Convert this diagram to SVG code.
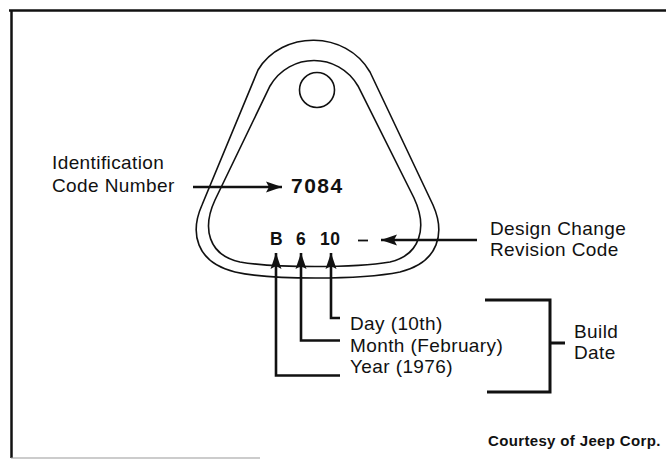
<svg xmlns="http://www.w3.org/2000/svg" width="666" height="459" viewBox="0 0 666 459">
<style>
.lbl{font-family:"Liberation Sans",Arial,Helvetica,sans-serif;font-size:19px;letter-spacing:0.4px;fill:#111}
.code{font-family:"Liberation Sans",Arial,Helvetica,sans-serif;font-weight:bold;fill:#111}
.tag{fill:none;stroke:#111;stroke-width:1.6}
.ln{fill:none;stroke:#111;stroke-width:2.6}
.br{fill:none;stroke:#111;stroke-width:3}
</style>
<defs>
<marker id="ah" markerUnits="userSpaceOnUse" markerWidth="18" markerHeight="12" refX="16" refY="6" orient="auto">
<path d="M0,0.5 L16,6 L0,11.5 L3,6 Z" fill="#111"/>
</marker>
</defs>
<rect width="666" height="459" fill="#fff"/>
<g id="frame">
<path d="M9,10.5 H666" stroke="#111" stroke-width="2.5" fill="none"/>
<path d="M11.5,10 V458" stroke="#111" stroke-width="2.5" fill="none"/>
<path d="M11,458 H260" stroke="#999" stroke-width="1" fill="none"/>
</g>
<g id="tag">
<path class="tag" d="M258,70 C282,30 346,30 370,72 L433,205 C445,232 440,262 400,272 C360,280 270,280 235,272 C195,262 190,232 202,205 Z"/>
<path class="tag" d="M270,86 C290,52 338,52 358,86 L414,198 C428,228 420,255 390,262 C355,268 275,268 240,262 C208,255 202,228 215,200 Z"/>
<circle class="tag" cx="317" cy="90" r="17.5"/>
<text class="code" x="291" y="193" font-size="21" letter-spacing="1.5">7084</text>
<text class="code" y="245" font-size="17.5"><tspan x="270">B</tspan><tspan x="296">6</tspan><tspan x="320" letter-spacing="0.5">10</tspan></text>
<path d="M358,240.5 H368" stroke="#111" stroke-width="1.8"/>
</g>
<g id="connectors">
<path class="ln" d="M193,187 H282" marker-end="url(#ah)"/>
<path class="ln" d="M477,240 H381" marker-end="url(#ah)"/>
<path class="ln" d="M340,375.5 H276 V253" marker-end="url(#ah)"/>
<path class="ln" d="M340,340.5 H301 V253" marker-end="url(#ah)"/>
<path class="ln" d="M340,318 H331 V253" marker-end="url(#ah)"/>
<path class="br" d="M485,300 H550 V392 H487 M550,343 H565"/>
</g>
<g id="label-identification">
<text class="lbl" x="52" y="169">Identification</text>
<text class="lbl" x="52" y="192">Code Number</text>
</g>
<g id="label-design">
<text class="lbl" x="490" y="235">Design Change</text>
<text class="lbl" x="490" y="256">Revision Code</text>
</g>
<g id="label-dates">
<text class="lbl" x="350" y="330">Day (10th)</text>
<text class="lbl" x="350" y="352">Month (February)</text>
<text class="lbl" x="350" y="373">Year (1976)</text>
</g>
<g id="label-build">
<text class="lbl" x="574" y="338">Build</text>
<text class="lbl" x="574" y="359">Date</text>
</g>
<text x="488" y="446" font-family="'Liberation Sans',Arial,sans-serif" font-size="15" letter-spacing="0.35" font-weight="bold" fill="#111">Courtesy of Jeep Corp.</text>
</svg>
